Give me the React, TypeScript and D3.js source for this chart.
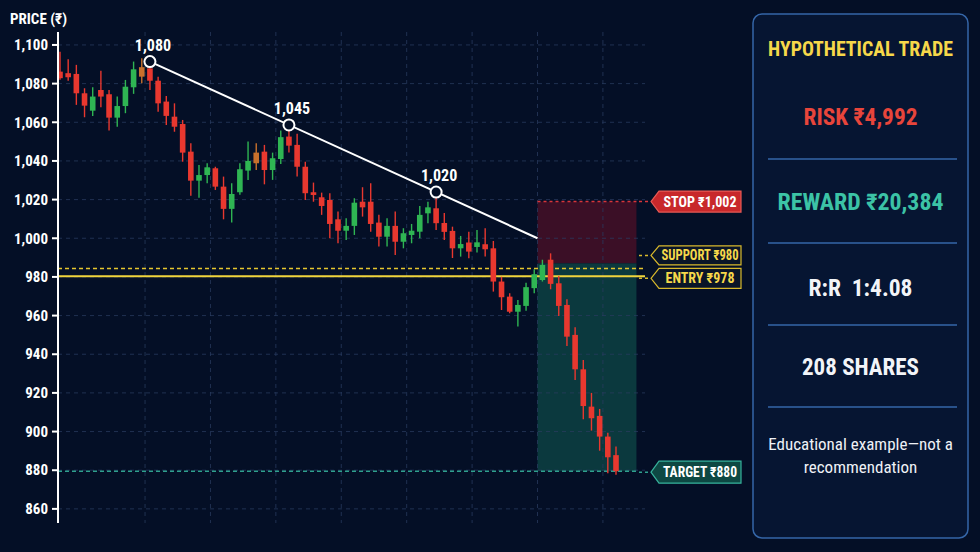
import { useEffect, useRef } from 'react';
import * as d3 from 'd3';

const W = 980;
const H = 552;

// OHLC, one entry per session
const opens = [
  1086.2, 1085.4, 1085.0, 1075.0, 1066.0, 1076.7, 1074.5, 1062.4, 1068.4, 1078.1,
  1088.5, 1087.9, 1081.5, 1070.7, 1062.9, 1059.1, 1044.8, 1029.8, 1032.7, 1036.2,
  1026.7, 1015.2, 1023.8, 1035.0, 1044.3, 1044.8, 1035.3, 1041.0, 1052.6, 1048.3,
  1037.0, 1023.8, 1021.2, 1019.8, 1009.8, 1003.9, 1006.4, 1018.9, 1018.9, 1008.1,
  1000.8, 1006.4, 998.2, 1001.7, 1003.4, 1012.9, 1015.5, 1007.9, 1003.8, 994.8,
  997.8, 995.5, 996.9, 994.8, 977.6, 969.8, 962.0, 965.0, 974.2, 978.4,
  988.9, 976.7, 965.5, 950.0, 932.2, 912.9, 908.1, 897.4, 887.8,
];
const highs = [
  1096.5, 1092.6, 1089.7, 1077.6, 1078.1, 1086.7, 1076.7, 1073.3, 1081.9, 1091.4,
  1093.1, 1089.7, 1083.6, 1073.6, 1069.8, 1061.2, 1049.1, 1037.9, 1038.8, 1037.0,
  1031.9, 1028.5, 1038.8, 1050.0, 1049.1, 1048.3, 1044.3, 1055.7, 1055.7, 1054.0,
  1039.6, 1028.8, 1023.6, 1023.3, 1013.8, 1010.3, 1020.7, 1026.4, 1028.5, 1012.1,
  1010.3, 1013.8, 1005.2, 1007.4, 1016.7, 1018.9, 1021.5, 1013.1, 1006.0, 1001.2,
  1003.4, 1004.3, 1005.2, 998.6, 980.1, 971.6, 968.1, 977.0, 984.0, 988.9,
  992.2, 980.5, 968.4, 953.9, 937.0, 920.0, 911.7, 899.4, 892.3,
];
const lows = [
  1082.0, 1081.5, 1069.0, 1062.6, 1063.3, 1067.8, 1055.7, 1057.7, 1064.7, 1074.7,
  1080.2, 1076.7, 1065.5, 1058.6, 1055.1, 1039.6, 1022.0, 1021.0, 1028.5, 1025.0,
  1009.8, 1008.1, 1022.5, 1030.2, 1035.3, 1027.9, 1030.2, 1038.4, 1044.3, 1031.9,
  1019.8, 1018.9, 1012.1, 1000.0, 997.4, 999.1, 1001.7, 1011.2, 1003.4, 995.7,
  995.7, 991.4, 994.8, 997.4, 1000.0, 1007.8, 1004.3, 999.1, 989.8, 990.5,
  989.7, 992.6, 990.5, 972.4, 962.9, 961.2, 954.3, 962.5, 971.6, 977.6,
  973.6, 959.8, 944.3, 926.7, 906.4, 900.5, 890.1, 878.4, 877.6,
];
const closes = [
  1082.8, 1083.3, 1075.0, 1068.6, 1073.3, 1073.3, 1062.4, 1068.4, 1078.4, 1087.4,
  1083.6, 1081.5, 1069.8, 1063.3, 1057.7, 1044.3, 1029.8, 1032.7, 1036.7, 1026.7,
  1015.2, 1022.9, 1035.7, 1040.0, 1038.8, 1035.3, 1041.4, 1052.3, 1047.9, 1037.0,
  1023.3, 1022.4, 1016.7, 1007.4, 1003.9, 1006.4, 1018.4, 1016.0, 1007.4, 1000.8,
  1006.4, 998.2, 1002.6, 1003.9, 1012.1, 1016.0, 1007.8, 1003.3, 994.8, 997.0,
  993.1, 997.9, 994.3, 977.6, 969.5, 962.0, 965.5, 974.7, 981.4, 986.2,
  976.4, 965.0, 949.1, 932.2, 913.2, 906.9, 897.4, 886.7, 879.5,
];
// sessions drawn in amber instead of red / green
const neutralCandles = [10, 24];

const yTicks = [860, 880, 900, 920, 940, 960, 980, 1000, 1020, 1040, 1060, 1080, 1100];

// lower-highs trendline
const pivotIdx = [11, 28, 46];
const pivotLabels = ['1,080', '1,045', '1,020'];
const trendStart = { i: 11, v: 1091.4 };
const trendEnd = { i: 58.4, v: 1000 };

// trade levels
const stopLevel = 1019;
const zoneSplit = 987;
const supportLevel = 984.4;
const entryLevel = 980.3;
const targetLevel = 879.5;
const zoneFrom = 58.4;
const zoneTo = 70.5;

const levelTags = [
  { text: 'STOP ₹1,002', level: stopLevel, shift: 0, fill: '#c8282b', stroke: '#e85a55', color: '#ffffff', line: '#d8353a', h: 21, w: 73 },
  { text: 'SUPPORT ₹980', level: supportLevel, shift: -13, fill: '#0a1528', stroke: '#d9b92c', color: '#f6d84a', line: '#d9b92c', h: 19, w: 77 },
  { text: 'ENTRY ₹978', level: entryLevel, shift: 2, fill: '#0a1528', stroke: '#d9b92c', color: '#f6d84a', line: '#d9b92c', h: 20, w: 69 },
  { text: 'TARGET ₹880', level: targetLevel, shift: 1, fill: '#0e4843', stroke: '#36b29c', color: '#ffffff', line: '#2fa08e', h: 22, w: 74 },
];

const panelRows = [
  { text: 'HYPOTHETICAL TRADE', y: 56, color: '#f6d84a', w: 185, size: 21 },
  { text: 'RISK ₹4,992', y: 125, color: '#e8453b', w: 114, size: 24 },
  { text: 'REWARD ₹20,384', y: 210, color: '#3cc3a6', w: 166, size: 23 },
  { text: 'R:R  1:4.08', y: 296, color: '#f2f4f8', w: 104, size: 24 },
  { text: '208 SHARES', y: 375, color: '#f2f4f8', w: 117, size: 24 },
];
const panelDividers = [159, 243, 325, 407];
const disclaimer = ['Educational example—not a', 'recommendation'];

const FONT = "'Roboto Condensed','Liberation Sans Narrow','DejaVu Sans Condensed','Arial Narrow',Roboto,sans-serif";

export default function App() {
  const svgRef = useRef<SVGSVGElement>(null);

  useEffect(() => {
    if (!svgRef.current) return;
    const svg = d3.select(svgRef.current);
    svg.selectAll('*').remove();

    const x = d3.scaleLinear().domain([0, opens.length - 1]).range([60, 616]);
    const y = d3.scaleLinear().domain([852.7, 1106.7]).range([523, 32]);
    const axisX = 58;
    const gridRight = 645;

    svg.append('rect').attr('width', W).attr('height', H).attr('fill', '#040f26');

    // trade zones
    svg.append('rect')
      .attr('x', x(zoneFrom))
      .attr('y', y(stopLevel))
      .attr('width', x(zoneTo) - x(zoneFrom))
      .attr('height', y(zoneSplit) - y(stopLevel))
      .attr('fill', '#3b0f26');
    svg.append('rect')
      .attr('x', x(zoneFrom))
      .attr('y', y(zoneSplit))
      .attr('width', x(zoneTo) - x(zoneFrom))
      .attr('height', y(targetLevel) - y(zoneSplit))
      .attr('fill', '#0b393e');

    // grid
    const grid = svg.append('g').attr('stroke', '#2a3c60').attr('stroke-opacity', 0.75).attr('stroke-dasharray', '4,4');
    grid.selectAll('line.h')
      .data(yTicks)
      .enter()
      .append('line')
      .attr('x1', axisX)
      .attr('x2', gridRight)
      .attr('y1', (d) => y(d))
      .attr('y2', (d) => y(d));
    grid.selectAll('line.v')
      .data(d3.range(10.4, opens.length, 8))
      .enter()
      .append('line')
      .attr('x1', (d) => x(d))
      .attr('x2', (d) => x(d))
      .attr('y1', 32)
      .attr('y2', 523);

    // level lines
    svg.append('line')
      .attr('x1', x(zoneFrom)).attr('x2', x(zoneTo))
      .attr('y1', y(stopLevel)).attr('y2', y(stopLevel))
      .attr('stroke', '#d8353a').attr('stroke-width', 1.5).attr('stroke-dasharray', '3,3');
    svg.append('line')
      .attr('x1', axisX).attr('x2', gridRight)
      .attr('y1', y(supportLevel)).attr('y2', y(supportLevel))
      .attr('stroke', '#e6c62e').attr('stroke-width', 1.5).attr('stroke-dasharray', '4,3');
    svg.append('line')
      .attr('x1', axisX).attr('x2', gridRight)
      .attr('y1', y(entryLevel)).attr('y2', y(entryLevel))
      .attr('stroke', '#f0d43c').attr('stroke-width', 2);
    svg.append('line')
      .attr('x1', axisX).attr('x2', x(zoneTo))
      .attr('y1', y(targetLevel)).attr('y2', y(targetLevel))
      .attr('stroke', '#2fa08e').attr('stroke-width', 1.5).attr('stroke-dasharray', '4,3');

    // candles
    const idx = d3.range(opens.length);
    const colorOf = (i: number) =>
      neutralCandles.includes(i) ? '#c8702c' : closes[i] >= opens[i] ? '#2fb553' : '#e8382f';
    const candles = svg.append('g');
    candles.selectAll('line')
      .data(idx)
      .enter()
      .append('line')
      .attr('x1', (i) => x(i))
      .attr('x2', (i) => x(i))
      .attr('y1', (i) => y(highs[i]))
      .attr('y2', (i) => y(lows[i]))
      .attr('stroke', colorOf)
      .attr('stroke-width', 1.4);
    candles.selectAll('rect')
      .data(idx)
      .enter()
      .append('rect')
      .attr('x', (i) => x(i) - 2.8)
      .attr('y', (i) => y(Math.max(opens[i], closes[i])))
      .attr('width', 5.6)
      .attr('height', (i) => Math.max(1.5, Math.abs(y(opens[i]) - y(closes[i]))))
      .attr('fill', colorOf);

    // trendline + pivots
    const trendY = (i: number) =>
      trendStart.v + ((trendEnd.v - trendStart.v) * (i - trendStart.i)) / (trendEnd.i - trendStart.i);
    svg.append('line')
      .attr('x1', x(trendStart.i)).attr('y1', y(trendStart.v))
      .attr('x2', x(trendEnd.i)).attr('y2', y(trendEnd.v))
      .attr('stroke', '#ffffff').attr('stroke-width', 2);
    svg.selectAll('circle.pivot')
      .data(pivotIdx)
      .enter()
      .append('circle')
      .attr('cx', (i) => x(i))
      .attr('cy', (i) => y(trendY(i)))
      .attr('r', 5.5)
      .attr('fill', '#040f26')
      .attr('stroke', '#ffffff')
      .attr('stroke-width', 2);
    svg.selectAll('text.pivot')
      .data(pivotIdx)
      .enter()
      .append('text')
      .attr('x', (i) => x(i) + 3)
      .attr('y', (i) => y(trendY(i)) - 11)
      .attr('text-anchor', 'middle')
      .attr('fill', '#ffffff')
      .style('font-family', FONT)
      .style('font-weight', '700')
      .style('font-size', '16px')
      .text((_d, k) => pivotLabels[k]);

    // y axis
    svg.append('line')
      .attr('x1', axisX).attr('x2', axisX)
      .attr('y1', 32).attr('y2', 523)
      .attr('stroke', '#ffffff').attr('stroke-width', 2);
    const ticks = svg.append('g');
    ticks.selectAll('line')
      .data(yTicks)
      .enter()
      .append('line')
      .attr('x1', axisX - 6).attr('x2', axisX)
      .attr('y1', (d) => y(d)).attr('y2', (d) => y(d))
      .attr('stroke', '#ffffff').attr('stroke-width', 2);
    ticks.selectAll('text')
      .data(yTicks)
      .enter()
      .append('text')
      .attr('x', axisX - 10)
      .attr('y', (d) => y(d))
      .attr('dy', '0.35em')
      .attr('text-anchor', 'end')
      .attr('fill', '#ffffff')
      .style('font-family', FONT)
      .style('font-weight', '700')
      .style('font-size', '15px')
      .text((d) => d3.format(',')(d));
    svg.append('text')
      .attr('x', 10).attr('y', 24)
      .attr('fill', '#ffffff')
      .style('font-family', FONT)
      .style('font-weight', '700')
      .style('font-size', '15px')
      .text('PRICE (₹)');

    // level tags on the right
    const tipX = 651;
    const tagRight = 741;
    levelTags.forEach((t) => {
      const cy = y(t.level) + t.shift;
      svg.append('line')
        .attr('x1', 639).attr('x2', tipX)
        .attr('y1', cy).attr('y2', cy)
        .attr('stroke', t.line).attr('stroke-width', 1.5).attr('stroke-dasharray', '3,3');
      const hh = t.h / 2;
      svg.append('path')
        .attr('d', `M${tipX},${cy}L${tipX + 8},${cy - hh}L${tagRight},${cy - hh}L${tagRight},${cy + hh}L${tipX + 8},${cy + hh}Z`)
        .attr('fill', t.fill)
        .attr('stroke', t.stroke)
        .attr('stroke-width', 1.2);
      svg.append('text')
        .attr('x', (tipX + 8 + tagRight) / 2)
        .attr('y', cy)
        .attr('dy', '0.36em')
        .attr('text-anchor', 'middle')
        .attr('fill', t.color)
        .attr('textLength', t.w)
        .attr('lengthAdjust', 'spacingAndGlyphs')
        .style('font-family', FONT)
        .style('font-weight', '700')
        .style('font-size', '14px')
        .text(t.text);
    });

    // summary panel
    const px = 753;
    const pw = 215;
    const cx = px + pw / 2;
    svg.append('rect')
      .attr('x', px).attr('y', 14)
      .attr('width', pw).attr('height', 524)
      .attr('rx', 9)
      .attr('fill', '#061532')
      .attr('stroke', '#3566a8')
      .attr('stroke-width', 1.5);
    svg.selectAll('line.div')
      .data(panelDividers)
      .enter()
      .append('line')
      .attr('x1', px + 15).attr('x2', px + pw - 11)
      .attr('y1', (d) => d).attr('y2', (d) => d)
      .attr('stroke', '#3566a8').attr('stroke-width', 1.5);
    svg.selectAll('text.row')
      .data(panelRows)
      .enter()
      .append('text')
      .attr('x', cx)
      .attr('y', (d) => d.y)
      .attr('text-anchor', 'middle')
      .attr('fill', (d) => d.color)
      .attr('textLength', (d) => d.w)
      .attr('lengthAdjust', 'spacingAndGlyphs')
      .style('font-family', FONT)
      .style('font-weight', '700')
      .style('font-size', (d) => `${d.size}px`)
      .style('white-space', 'pre')
      .text((d) => d.text);
    svg.selectAll('text.note')
      .data(disclaimer)
      .enter()
      .append('text')
      .attr('x', cx)
      .attr('y', (_d, k) => 450 + k * 23)
      .attr('text-anchor', 'middle')
      .attr('fill', '#eef1f6')
      .style('font-family', FONT)
      .style('font-size', '17px')
      .text((d) => d);
  }, []);

  return (
    <svg
      ref={svgRef}
      width={W}
      height={H}
      style={{ position: 'absolute', left: 0, top: 0, display: 'block' }}
    />
  );
}
